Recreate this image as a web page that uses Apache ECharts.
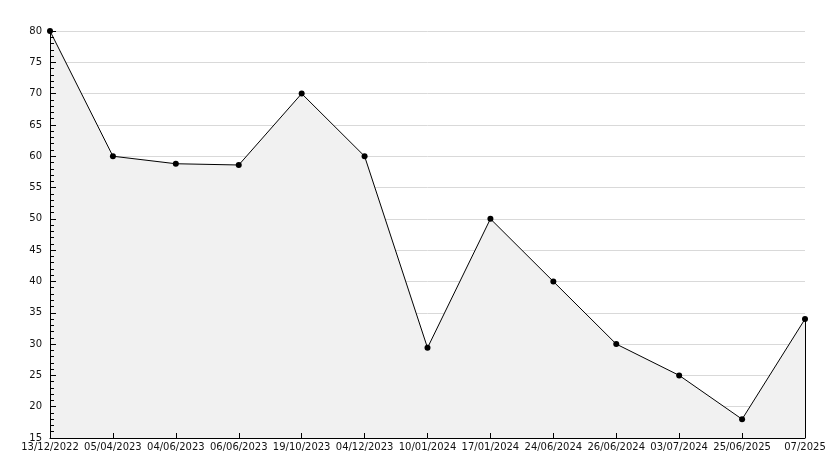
<!DOCTYPE html>
<html>
<head>
<meta charset="utf-8">
<script src="https://cdn.jsdelivr.net/npm/echarts@6/dist/echarts.min.js"></script>
<style>html,body{margin:0;padding:0;background:#fff;}#c{width:834px;height:468px;}</style>
</head>
<body>
<div id="c"></div>
<script>
var categories = ['13/12/2022','05/04/2023','04/06/2023','06/06/2023','19/10/2023','04/12/2023','10/01/2024','17/01/2024','24/06/2024','26/06/2024','03/07/2024','25/06/2025','07/2025'];
var values = [80, 60, 58.8, 58.6, 70, 60, 29.4, 50, 40, 30, 25, 18, 34];
var yMin = 15, yMax = 80, yStep = 5;

var chart = echarts.init(document.getElementById('c'));
var lastIdx = categories.length - 1;
chart.setOption({
  animation: false,
  backgroundColor: '#ffffff',
  textStyle: { fontFamily: 'DejaVu Sans' },
  grid: { left: 50, right: 29, top: 31, bottom: 30, containLabel: false },
  xAxis: {
    type: 'category',
    data: categories,
    boundaryGap: false,
    z: 10,
    axisLine: { show: true, lineStyle: { color: '#000', width: 1 } },
    axisTick: { show: true, inside: true, length: 5, lineStyle: { color: '#000' } },
    axisLabel: { color: '#111', fontSize: 10, fontFamily: 'DejaVu Sans', margin: 4, interval: 0 },
    splitLine: { show: false }
  },
  yAxis: [{
    type: 'value',
    min: yMin, max: yMax, interval: yStep,
    z: 0,
    axisLine: { show: false },
    axisTick: { show: false },
    axisLabel: { show: false },
    splitLine: { show: true, lineStyle: { color: '#d9d9d9', width: 1 } }
  }, {
    type: 'value',
    position: 'left',
    min: yMin, max: yMax, interval: yStep,
    z: 10,
    axisLine: { show: true, lineStyle: { color: '#000', width: 1 } },
    axisTick: { show: true, inside: true, length: 6, lineStyle: { color: '#000' } },
    minorTick: { show: true, splitNumber: 5, length: 4, lineStyle: { color: '#000' } },
    axisLabel: { color: '#111', fontSize: 10, fontFamily: 'DejaVu Sans', margin: 8 },
    splitLine: { show: false }
  }],
  series: [{
    type: 'line',
    yAxisIndex: 0,
    data: values,
    symbol: 'circle',
    symbolSize: 6,
    itemStyle: { color: '#000' },
    lineStyle: { color: '#000', width: 1 },
    areaStyle: { color: '#f1f1f1', opacity: 1, origin: 'start' },
    markLine: {
      silent: true,
      symbol: ['none', 'none'],
      label: { show: false },
      lineStyle: { color: '#000', width: 1, type: 'solid' },
      data: [[{ coord: [lastIdx, values[lastIdx]] }, { coord: [lastIdx, yMin] }]]
    }
  }]
});
</script>
</body>
</html>
